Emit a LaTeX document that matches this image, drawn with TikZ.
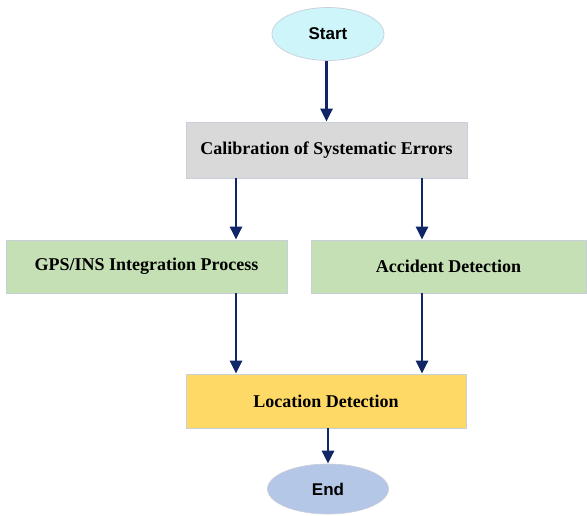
\documentclass[tikz,border=0pt]{standalone}
\usepackage{fontspec}
\setmainfont{Liberation Serif}
\newfontfamily\termfont{Liberation Sans}
\usetikzlibrary{arrows.meta,shapes.geometric}
\definecolor{startfill}{RGB}{206,246,250}
\definecolor{calfill}{RGB}{217,217,217}
\definecolor{greenfill}{RGB}{197,224,180}
\definecolor{yellowfill}{RGB}{255,217,102}
\definecolor{endfill}{RGB}{180,199,231}
\definecolor{arrowcol}{RGB}{16,38,102}
\definecolor{edgecol}{RGB}{200,206,218}
\tikzset{
  terminal/.style={ellipse, draw=edgecol, line width=0.7pt, inner sep=0pt,
    font=\termfont\bfseries\fontsize{17}{20}\selectfont},
  procbox/.style={rectangle, draw=edgecol, line width=0.7pt, inner sep=0pt,
    font=\bfseries\fontsize{18}{21}\selectfont},
  arr/.style={draw=arrowcol, line width=2.8pt, -{Triangle[width=12pt,length=13pt]}}
}
\begin{document}
\begin{tikzpicture}[x=1pt,y=-1pt]
\useasboundingbox (0,0) rectangle (587,516);
\node[terminal, fill=startfill, minimum width=112pt, minimum height=53pt] (start) at (328,34) {Start};
\node[procbox, fill=calfill, minimum width=281pt, minimum height=56pt] (cal) at (326.5,150) {Calibration of Systematic Errors};
\node[procbox, fill=greenfill, minimum width=281pt, minimum height=53pt] (gps) at (146.5,266.5) {GPS/INS Integration Process};
\node[procbox, fill=greenfill, minimum width=275pt, minimum height=53pt] (acc) at (448.5,266.5) {Accident Detection};
\node[procbox, fill=yellowfill, minimum width=280pt, minimum height=54pt] (loc) at (326,401) {Location Detection};
\node[terminal, fill=endfill, minimum width=121pt, minimum height=50pt] (end) at (328,489) {End};
\coordinate (cl) at ([xshift=-90.5pt]cal.south);
\coordinate (cr) at ([xshift=95.5pt]cal.south);
\draw[arr] (start.south -| cal.north) -- (cal.north);
\draw[arr] (cl) -- (cl |- gps.north);
\draw[arr] (cr) -- (cr |- acc.north);
\draw[arr] (cl |- gps.south) -- (cl |- loc.north);
\draw[arr] (cr |- acc.south) -- (cr |- loc.north);
\draw[arr] (loc.south -| end.north) -- (end.north);
\end{tikzpicture}
\end{document}
